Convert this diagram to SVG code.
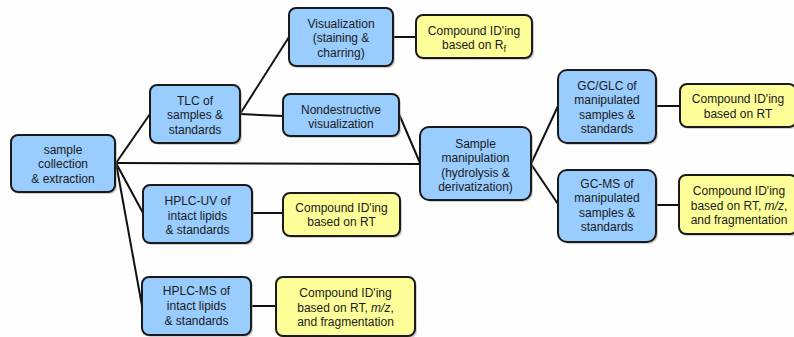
<svg xmlns="http://www.w3.org/2000/svg" width="794" height="337" viewBox="0 0 794 337">
<style>
.b{fill:#99ccff;stroke:#1a1a1a;stroke-width:2}
.y{fill:#ffff99;stroke:#1a1a1a;stroke-width:2}
.s{fill:#9a9a9a;opacity:0.45}
text{font-family:"Liberation Sans",Arial,sans-serif;font-size:12px;fill:#1a1a1a;text-anchor:middle}
.c line{stroke:#111;stroke-width:2}
</style>
<rect width="794" height="337" fill="#fefefe"/>
<g class="c" id="connectors">
<line x1="116" y1="163" x2="150" y2="114"/>
<line x1="116" y1="163" x2="420" y2="164"/>
<line x1="116" y1="163" x2="143" y2="213"/>
<line x1="116" y1="163" x2="142" y2="306"/>
<line x1="240" y1="114" x2="289" y2="37"/>
<line x1="240" y1="114" x2="283" y2="116"/>
<line x1="393" y1="37" x2="416" y2="37"/>
<line x1="399" y1="114" x2="420" y2="163"/>
<line x1="531" y1="164" x2="558" y2="106"/>
<line x1="531" y1="164" x2="558" y2="204"/>
<line x1="656" y1="106" x2="680" y2="106"/>
<line x1="656" y1="205" x2="679" y2="205"/>
<line x1="252" y1="213" x2="283" y2="213"/>
<line x1="251" y1="306" x2="276" y2="306"/>
</g>
<g id="sample">
<rect class="s" x="13" y="137" width="104" height="57" rx="7"/>
<rect class="b" x="11" y="135" width="104" height="57" rx="7"/>
<text x="63" y="153.5">sample</text><text x="63" y="168">collection</text><text x="63" y="182.5">&amp; extraction</text>
</g>
<g id="tlc">
<rect class="s" x="152" y="87" width="90" height="58" rx="7"/>
<rect class="b" x="150" y="85" width="90" height="58" rx="7"/>
<text x="195" y="104.5">TLC of</text><text x="195" y="119">samples &amp;</text><text x="195" y="133.5">standards</text>
</g>
<g id="visualization">
<rect class="s" x="291" y="10" width="104" height="58" rx="7"/>
<rect class="b" x="289" y="8" width="104" height="58" rx="7"/>
<text x="341" y="27.5">Visualization</text><text x="341" y="42">(staining &amp;</text><text x="341" y="56.5">charring)</text>
</g>
<g id="nondestructive">
<rect class="s" x="285" y="96" width="116" height="42" rx="7"/>
<rect class="b" x="283" y="94" width="116" height="42" rx="7"/>
<text x="341" y="113.5">Nondestructive</text><text x="341" y="127.5">visualization</text>
</g>
<g id="compound-rf">
<rect class="s" x="418" y="17" width="116" height="43" rx="7"/>
<rect class="y" x="416" y="15" width="116" height="43" rx="7"/>
<text x="474" y="35">Compound ID'ing</text><text x="474" y="49">based on R<tspan font-size="9" dy="3">f</tspan></text>
</g>
<g id="manipulation">
<rect class="s" x="422" y="129" width="111" height="73" rx="9"/>
<rect class="b" x="420" y="127" width="111" height="73" rx="9"/>
<text x="475.5" y="147.5">Sample</text><text x="475.5" y="162">manipulation</text><text x="475.5" y="176.5">(hydrolysis &amp;</text><text x="475.5" y="191">derivatization)</text>
</g>
<g id="gcglc">
<rect class="s" x="560" y="72" width="98" height="73" rx="9"/>
<rect class="b" x="558" y="70" width="98" height="73" rx="9"/>
<text x="607" y="89.5">GC/GLC of</text><text x="607" y="104">manipulated</text><text x="607" y="118.5">samples &amp;</text><text x="607" y="133">standards</text>
</g>
<g id="compound-rt-top">
<rect class="s" x="682" y="86" width="116" height="43" rx="7"/>
<rect class="y" x="680" y="84" width="116" height="43" rx="7"/>
<text x="738" y="103">Compound ID'ing</text><text x="738" y="117.5">based on RT</text>
</g>
<g id="gcms">
<rect class="s" x="560" y="172" width="98" height="72" rx="9"/>
<rect class="b" x="558" y="170" width="98" height="72" rx="9"/>
<text x="607" y="187.5">GC-MS of</text><text x="607" y="202">manipulated</text><text x="607" y="216.5">samples &amp;</text><text x="607" y="231">standards</text>
</g>
<g id="compound-mz-right">
<rect class="s" x="681" y="177" width="118" height="59" rx="7"/>
<rect class="y" x="679" y="175" width="118" height="59" rx="7"/>
<text x="739" y="195">Compound ID'ing</text><text x="739" y="209.5">based on RT, <tspan font-style="italic">m/z</tspan>,</text><text x="739" y="224">and fragmentation</text>
</g>
<g id="hplcuv">
<rect class="s" x="145" y="187" width="109" height="58" rx="7"/>
<rect class="b" x="143" y="185" width="109" height="58" rx="7"/>
<text x="197.5" y="205">HPLC-UV of</text><text x="197.5" y="219.5">intact lipids</text><text x="197.5" y="234">&amp; standards</text>
</g>
<g id="compound-rt-mid">
<rect class="s" x="285" y="195" width="117" height="43" rx="7"/>
<rect class="y" x="283" y="193" width="117" height="43" rx="7"/>
<text x="341.5" y="211.5">Compound ID'ing</text><text x="341.5" y="226">based on RT</text>
</g>
<g id="hplcms">
<rect class="s" x="144" y="279" width="109" height="58" rx="7"/>
<rect class="b" x="142" y="277" width="109" height="58" rx="7"/>
<text x="196.5" y="295">HPLC-MS of</text><text x="196.5" y="310">intact lipids</text><text x="196.5" y="324.5">&amp; standards</text>
</g>
<g id="compound-mz-bottom">
<rect class="s" x="278" y="279" width="139" height="59" rx="7"/>
<rect class="y" x="276" y="277" width="139" height="59" rx="7"/>
<text x="345.5" y="297">Compound ID'ing</text><text x="345.5" y="311.5">based on RT, <tspan font-style="italic">m/z</tspan>,</text><text x="345.5" y="326">and fragmentation</text>
</g>
</svg>
